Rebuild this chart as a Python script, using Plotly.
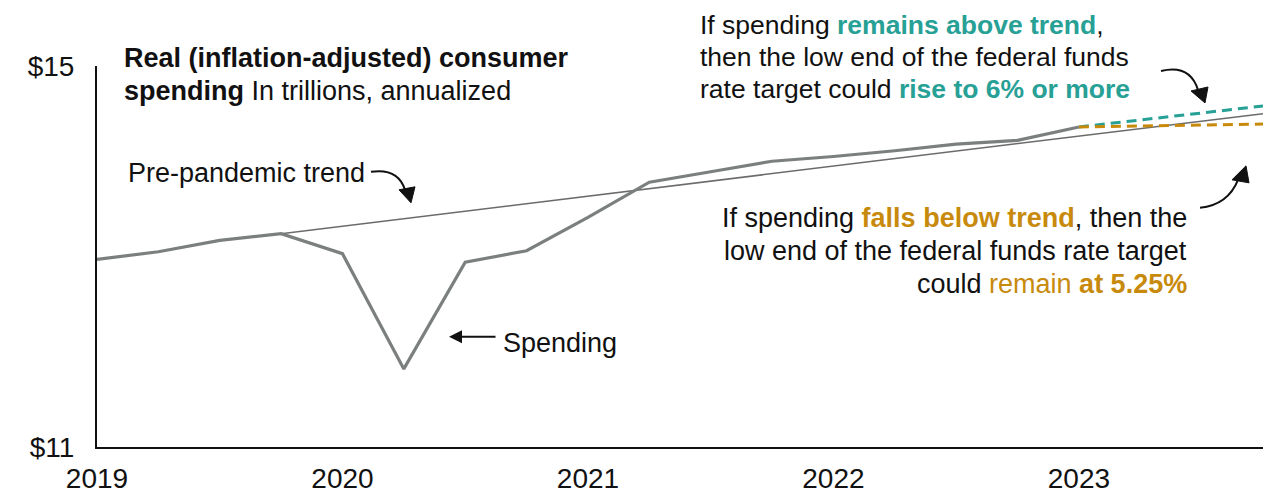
import plotly.graph_objects as go

# ---------------- data ----------------
quarters = [2019.0, 2019.25, 2019.5, 2019.75, 2020.0, 2020.25, 2020.5, 2020.75,
            2021.0, 2021.25, 2021.5, 2021.75, 2022.0, 2022.25, 2022.5, 2022.75, 2023.0]
spending = [12.97, 13.05, 13.17, 13.24, 13.03, 11.82, 12.94, 13.06,
            13.41, 13.78, 13.89, 14.00, 14.05, 14.11, 14.18, 14.22, 14.36]
trend_x = [2019.75, 2023.75]
trend_y = [13.24, 14.50]
above_x = [2023.0, 2023.75]
above_y = [14.36, 14.58]
below_x = [2023.0, 2023.75]
below_y = [14.36, 14.39]
year_ticks = [2019, 2020, 2021, 2022, 2023]
year_labels = ["2019", "2020", "2021", "2022", "2023"]
y_ticks = [11, 15]
y_labels = ["$11", "$15"]

GRAY = "#7b807f"
TREND = "#6b6b6b"
TEAL = "#27a095"
GOLD = "#c88a0c"
FONT = "Liberation Sans, Arial, sans-serif"
TXT = 27
TICK = 28

OX, OY = 8, 8  # page body margin
W, H = 1275, 488
L, R, T, B = 89, 20, 58, 48.5
PW = W - L - R
PH = H - T - B


def px(x):
    return (x - OX - L) / PW


def py(y):
    return (OY + H - B - y) / PH


fig = go.Figure()
fig.add_trace(go.Scatter(x=trend_x, y=trend_y, mode="lines",
                         line=dict(color=TREND, width=1.5), hoverinfo="skip"))
fig.add_trace(go.Scatter(x=above_x, y=above_y, mode="lines",
                         line=dict(color=TEAL, width=3, dash="10px,6px"), hoverinfo="skip"))
fig.add_trace(go.Scatter(x=below_x, y=below_y, mode="lines",
                         line=dict(color=GOLD, width=3, dash="10px,6px"), hoverinfo="skip"))
fig.add_trace(go.Scatter(x=quarters, y=spending, mode="lines",
                         line=dict(color=GRAY, width=3.2), hoverinfo="skip"))

ann = []


def text(x, y, s, anchor="left", size=TXT):
    ann.append(dict(xref="paper", yref="paper", x=px(x), y=py(y), text=s,
                    showarrow=False, xanchor=anchor, yanchor="middle", borderpad=0,
                    font=dict(family=FONT, size=size, color="#111111")))


# title
text(123, 58, "<b>Real (inflation-adjusted) consumer</b>")
text(123, 91, "<b>spending</b> In trillions, annualized")
# labels
text(127, 173, "Pre-pandemic trend")
text(502, 343, "Spending")
# top-right
text(699, 25, f"If spending <b><span style='color:{TEAL}'>remains above trend</span></b>,", size=26.5)
text(699, 57, "then the low end of the federal funds", size=26.5)
text(699, 89, f"rate target could <b><span style='color:{TEAL}'>rise to 6% or more</span></b>", size=26.5)
# bottom-right
text(1188, 218, f"If spending <b><span style='color:{GOLD}'>falls below trend</span></b>, then the", anchor="right")
text(1188, 251, "low end of the federal funds rate target", anchor="right")
text(1188, 284, f"could <span style='color:{GOLD}'>remain</span> <b><span style='color:{GOLD}'>at 5.25%</span></b>", anchor="right")

# straight arrow for "Spending"
ann.append(dict(xref="paper", yref="paper", x=px(449), y=py(337), ax=48, ay=0,
                text="", showarrow=True,
                arrowhead=2, arrowsize=1.3, arrowwidth=2, arrowcolor="#111111"))

shapes = []


def curve(p0, c, p1):
    path = (f"M {px(p0[0])},{py(p0[1])} Q {px(c[0])},{py(c[1])} {px(p1[0])},{py(p1[1])}")
    shapes.append(dict(type="path", xref="paper", yref="paper", path=path,
                       line=dict(color="#111111", width=2)))


def head(tip, b1, b2):
    path = (f"M {px(tip[0])},{py(tip[1])} L {px(b1[0])},{py(b1[1])} "
            f"L {px(b2[0])},{py(b2[1])} Z")
    shapes.append(dict(type="path", xref="paper", yref="paper", path=path,
                       fillcolor="#111111", line=dict(color="#111111", width=1)))


# pre-pandemic trend arrow
curve((371, 172), (398, 168), (405, 190))
head((411, 203), (399, 190), (415, 187))
# top-right arrow
curve((1161, 71), (1190, 64), (1198, 90))
head((1205, 103), (1191, 91), (1208, 87))
# bottom-right arrow
curve((1200, 208), (1228, 205), (1238, 180))
head((1246, 166), (1232, 180), (1249, 183))

fig.update_layout(
    width=W, height=H,
    margin=dict(l=L, r=R, t=T, b=B, pad=0, autoexpand=False),
    paper_bgcolor="white", plot_bgcolor="white",
    showlegend=False,
    annotations=ann, shapes=shapes,
    xaxis=dict(range=[2019, 2023.75], tickvals=year_ticks, ticktext=year_labels,
               showgrid=False, zeroline=False, showline=True, linecolor="#111111",
               linewidth=2, ticks="", ticklabelstandoff=5, automargin=False,
               tickfont=dict(family=FONT, size=TICK, color="#111111")),
    yaxis=dict(range=[11, 15], tickvals=y_ticks, ticktext=y_labels,
               showgrid=False, zeroline=False, showline=True, linecolor="#111111",
               linewidth=2, ticks="", ticklabelstandoff=15, automargin=False,
               tickfont=dict(family=FONT, size=TICK, color="#111111")),
)

fig.write_html("out.html")
